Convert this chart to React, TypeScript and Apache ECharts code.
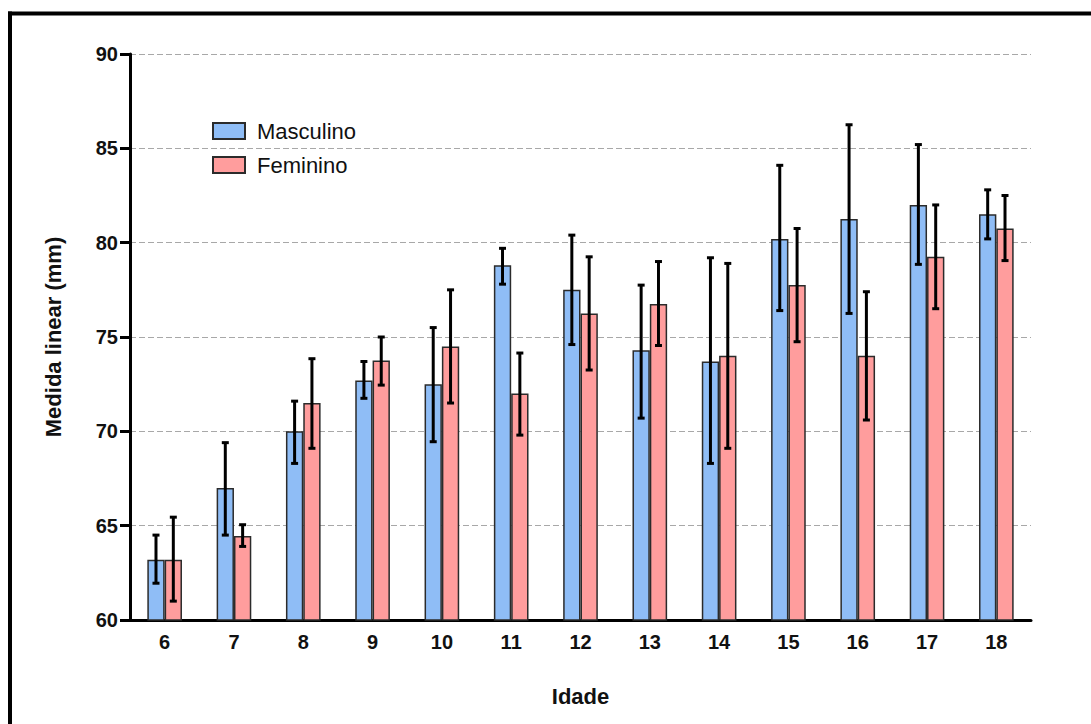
import React, { useEffect, useRef } from "react";
import * as echarts from "echarts";

const ages = ["6", "7", "8", "9", "10", "11", "12", "13", "14", "15", "16", "17", "18"];
const masculino = [63.2, 67.0, 70.0, 72.7, 72.5, 78.8, 77.5, 74.3, 73.7, 80.2, 81.25, 82.0, 81.5];
const masculinoLow = [61.95, 64.5, 68.3, 71.75, 69.45, 77.8, 74.6, 70.7, 68.3, 76.4, 76.25, 78.85, 80.2];
const masculinoHigh = [64.5, 69.4, 71.6, 73.7, 75.5, 79.7, 80.4, 77.75, 79.2, 84.1, 86.25, 85.2, 82.8];
const feminino = [63.2, 64.45, 71.5, 73.75, 74.5, 72.0, 76.25, 76.75, 74.0, 77.75, 74.0, 79.25, 80.75];
const femininoLow = [61.0, 63.9, 69.1, 72.45, 71.5, 69.8, 73.25, 74.55, 69.1, 74.75, 70.6, 76.5, 79.05];
const femininoHigh = [65.45, 65.05, 73.85, 75.0, 77.5, 74.15, 79.25, 79.0, 78.9, 80.75, 77.4, 82.0, 82.5];
const yTicks = { min: 60, max: 90, interval: 5 };

const FONT = "'Liberation Sans', Arial, Helvetica, sans-serif";

function errorSeries(name: string, lows: number[], highs: number[], sign: number) {
  return {
    type: "custom",
    name: name + "-err",
    z: 5,
    silent: true,
    data: lows.map((lo, i) => [i, lo, highs[i]]),
    encode: { x: 0, y: [1, 2] },
    renderItem: (params: any, api: any) => {
      const idx = api.value(0);
      const lo = api.value(1);
      const hi = api.value(2);
      const band = api.size([1, 0])[0];
      const off = sign * band * 0.125;
      const pHi = api.coord([idx, hi]);
      const pLo = api.coord([idx, lo]);
      const cx = pHi[0] + off;
      const cap = 3.5;
      const st = { stroke: "#000", lineWidth: 3 };
      return {
        type: "group",
        children: [
          { type: "line", shape: { x1: cx, y1: pHi[1], x2: cx, y2: pLo[1] }, style: st },
          { type: "line", shape: { x1: cx - cap, y1: pHi[1], x2: cx + cap, y2: pHi[1] }, style: st },
          { type: "line", shape: { x1: cx - cap, y1: pLo[1], x2: cx + cap, y2: pLo[1] }, style: st },
        ],
      };
    },
  };
}

export default function App() {
  const ref = useRef<HTMLDivElement>(null);
  useEffect(() => {
    document.body.style.margin = "0";
    const chart = echarts.init(ref.current!, null, { renderer: "svg" });
    chart.setOption({
      animation: false,
      backgroundColor: "#fff",
      textStyle: { fontFamily: FONT },
      grid: { left: 130, right: 60, top: 54, bottom: 104, containLabel: false },
      legend: {
        data: ["Masculino", "Feminino"],
        orient: "vertical",
        left: 207,
        top: 115,
        icon: "rect",
        itemWidth: 32,
        itemHeight: 16,
        itemGap: 12,
        selectedMode: false,
        textStyle: { fontSize: 22, color: "#111", fontFamily: FONT, lineHeight: 22, padding: [0, 0, 0, 7] },
      },
      xAxis: {
        type: "category",
        data: ages,
        name: "Idade",
        nameLocation: "middle",
        nameGap: 65,
        nameTextStyle: { fontSize: 22, fontWeight: "bold", color: "#111", fontFamily: FONT },
        axisLine: { lineStyle: { color: "#000", width: 3 } },
        axisTick: { alignWithLabel: true, length: 8, lineStyle: { color: "#000", width: 3 } },
        axisLabel: { fontSize: 20, fontWeight: "bold", color: "#111", margin: 12, fontFamily: FONT },
        splitLine: { show: false },
      },
      yAxis: {
        type: "value",
        min: yTicks.min,
        max: yTicks.max,
        interval: yTicks.interval,
        name: "Medida linear (mm)",
        nameLocation: "middle",
        nameGap: 66,
        nameTextStyle: { fontSize: 22, fontWeight: "bold", color: "#111", fontFamily: FONT },
        axisLine: { show: true, lineStyle: { color: "#000", width: 3 } },
        axisTick: { show: true, length: 10, lineStyle: { color: "#000", width: 3 } },
        axisLabel: { fontSize: 20, fontWeight: "bold", color: "#111", margin: 12, fontFamily: FONT },
        splitLine: { show: true, lineStyle: { color: "#a8a8a8", width: 1.2, type: [6, 3] } },
      },
      series: [
        {
          type: "bar",
          name: "Masculino",
          data: masculino,
          barGap: "0%",
          barCategoryGap: "50%",
          itemStyle: { color: "#8FBDF6", borderColor: "#2b2b2b", borderWidth: 1.5 },
        },
        {
          type: "bar",
          name: "Feminino",
          data: feminino,
          barGap: "0%",
          barCategoryGap: "50%",
          itemStyle: { color: "#FF9D9D", borderColor: "#2b2b2b", borderWidth: 1.5 },
        },
        errorSeries("Masculino", masculinoLow, masculinoHigh, -1),
        errorSeries("Feminino", femininoLow, femininoHigh, 1),
      ],
      graphic: [
        { type: "line", shape: { x1: 8, y1: 13.5, x2: 1091, y2: 13.5 }, style: { stroke: "#000", lineWidth: 4 } },
        { type: "line", shape: { x1: 10, y1: 11.5, x2: 10, y2: 724 }, style: { stroke: "#000", lineWidth: 4 } },
      ],
    });
    return () => chart.dispose();
  }, []);
  return <div ref={ref} style={{ width: 1091, height: 724 }} />;
}
